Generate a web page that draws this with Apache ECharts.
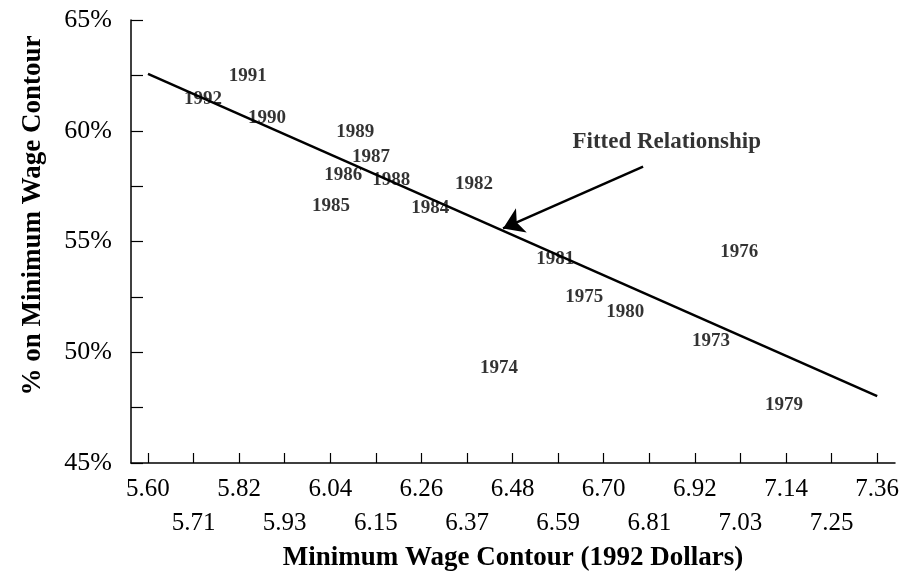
<!DOCTYPE html>
<html>
<head>
<meta charset="utf-8">
<script src="https://cdn.jsdelivr.net/npm/echarts@6/dist/echarts.min.js"></script>
<style>
  html, body { margin: 0; padding: 0; background: #fff; }
  #chart { width: 911px; height: 573px; }
</style>
</head>
<body>
<div id="chart"></div>
<script>
// year labels and their positions (wage contour, % on contour)
const years = ['1991', '1992', '1990', '1989', '1987', '1986', '1988', '1985', '1984', '1982',
  '1981', '1975', '1980', '1974', '1976', '1973', '1979']
const wage = [5.841, 5.733, 5.887, 6.100, 6.138, 6.071, 6.187, 6.042, 6.281, 6.387,
  6.583, 6.653, 6.752, 6.447, 7.027, 6.959, 7.135]
const share = [62.48, 61.44, 60.59, 59.95, 58.83, 58.02, 57.79, 56.58, 56.53, 57.61,
  54.19, 52.48, 51.80, 49.28, 54.50, 50.50, 47.61]

// fitted line end points
const fitX = [5.60, 7.36]
const fitY = [62.57, 48.02]

// arrow + annotation
const arrowFrom = [6.795, 58.38]
const arrowTo = [6.457, 55.59]
const noteText = 'Fitted Relationship'
const notePos = [6.852, 59.50]

const xTicks = [5.60, 5.71, 5.82, 5.93, 6.04, 6.15, 6.26, 6.37, 6.48, 6.59,
  6.70, 6.81, 6.92, 7.03, 7.14, 7.25, 7.36]

const serif = 'Liberation Serif'
const chart = echarts.init(document.getElementById('chart'))

chart.setOption({
  animation: false,
  grid: { left: 131, right: 16, top: 20, bottom: 110, outerBoundsMode: 'none' },
  xAxis: {
    type: 'value',
    min: 5.559,
    max: 7.403,
    name: 'Minimum Wage Contour (1992 Dollars)',
    nameLocation: 'middle',
    nameGap: 82,
    nameTextStyle: { fontFamily: serif, fontSize: 27, fontWeight: 'bold', color: '#000' },
    axisLine: { lineStyle: { color: '#000', width: 1.5 } },
    axisTick: { inside: true, length: 10, customValues: xTicks, lineStyle: { color: '#000', width: 1.2 } },
    axisLabel: {
      customValues: xTicks,
      margin: 9,
      fontFamily: serif,
      fontSize: 25,
      color: '#000',
      lineHeight: 34,
      formatter: v => {
        const i = Math.round((v - 5.60) / 0.11)
        const s = v.toFixed(2)
        return i % 2 ? '\n' + s : s
      }
    },
    splitLine: { show: false }
  },
  yAxis: {
    type: 'value',
    min: 45,
    max: 65,
    interval: 2.5,
    name: '% on Minimum Wage Contour',
    nameLocation: 'middle',
    nameGap: 84,
    nameTextStyle: { fontFamily: serif, fontSize: 27, fontWeight: 'bold', color: '#000', padding: [0, 0, 0, 52] },
    axisLine: { show: true, lineStyle: { color: '#000', width: 1.5 } },
    axisTick: { show: true, inside: true, length: 12, lineStyle: { color: '#000', width: 1.2 } },
    axisLabel: {
      margin: 19,
      fontFamily: serif,
      fontSize: 26,
      color: '#000',
      formatter: v => (v % 5 === 0 ? v + '%' : '')
    },
    splitLine: { show: false }
  },
  series: [
    {
      type: 'line',
      data: fitX.map((x, i) => [x, fitY[i]]),
      symbol: 'none',
      lineStyle: { color: '#000', width: 2.5 },
      markLine: {
        silent: true,
        symbol: ['none', 'arrow'],
        symbolSize: 20,
        itemStyle: { color: '#000' },
        lineStyle: { color: '#000', width: 2.5, type: 'solid' },
        label: { show: false },
        data: [[{ coord: arrowFrom }, { coord: arrowTo }]]
      }
    },
    {
      type: 'scatter',
      data: wage.map((x, i) => [x, share[i]]),
      symbolSize: 1,
      itemStyle: { color: 'rgba(0,0,0,0)' },
      label: {
        show: true,
        position: 'inside',
        fontFamily: serif,
        fontSize: 19,
        fontWeight: 'bold',
        color: '#000',
        formatter: p => years[p.dataIndex]
      }
    },
    {
      type: 'scatter',
      data: [notePos],
      symbolSize: 1,
      itemStyle: { color: 'rgba(0,0,0,0)' },
      label: {
        show: true,
        position: 'inside',
        fontFamily: serif,
        fontSize: 23,
        fontWeight: 'bold',
        color: '#000',
        formatter: () => noteText
      }
    }
  ]
})
</script>
</body>
</html>
